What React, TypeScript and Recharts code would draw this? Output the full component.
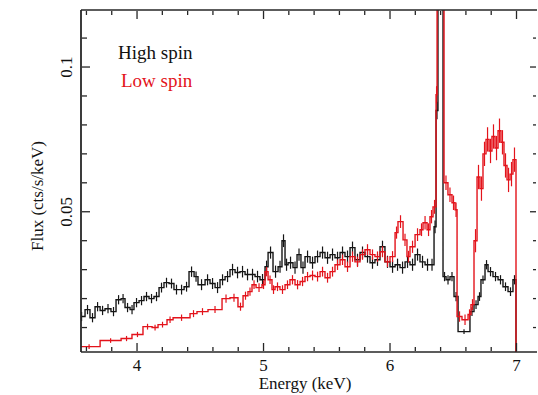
import React from 'react';
import { LineChart, Line, XAxis, YAxis, ErrorBar } from 'recharts';

// High spin spectrum: bin edges (keV), flux (cts/s/keV) and 1-sigma errors
const highEdges = [
  3.534, 3.589, 3.628, 3.668, 3.708, 3.747, 3.794, 3.834, 3.874, 3.905,
  3.945, 3.976, 4.016, 4.055, 4.095, 4.134, 4.174, 4.213, 4.253, 4.292,
  4.332, 4.372, 4.411, 4.451, 4.482, 4.538, 4.577, 4.617, 4.656, 4.696,
  4.735, 4.775, 4.814, 4.854, 4.893, 4.933, 4.972, 5.012, 5.036, 5.075,
  5.115, 5.146, 5.170, 5.194, 5.233, 5.265, 5.296, 5.328, 5.368, 5.407,
  5.447, 5.486, 5.526, 5.565, 5.605, 5.644, 5.684, 5.723, 5.763, 5.802,
  5.842, 5.881, 5.921, 5.960, 6.000, 6.040, 6.079, 6.119, 6.158, 6.198,
  6.237, 6.277, 6.316, 6.348, 6.364, 6.379, 6.419, 6.443, 6.474, 6.506,
  6.538, 6.632, 6.664, 6.696, 6.719, 6.751, 6.775, 6.814, 6.854, 6.893,
  6.933, 6.972, 6.996, 7.020,
];
const highFlux = [
  0.0138, 0.0162, 0.0134, 0.0172, 0.0159, 0.0165, 0.0155, 0.0196, 0.0200, 0.0169,
  0.0162, 0.0186, 0.0193, 0.0207, 0.0200, 0.0207, 0.0238, 0.0255, 0.0252, 0.0231,
  0.0231, 0.0241, 0.0293, 0.0276, 0.0248, 0.0265, 0.0252, 0.0238, 0.0265, 0.0276,
  0.0300, 0.0290, 0.0293, 0.0283, 0.0283, 0.0276, 0.0265, 0.0310, 0.0359, 0.0293,
  0.0310, 0.0400, 0.0317, 0.0324, 0.0307, 0.0352, 0.0307, 0.0345, 0.0324, 0.0345,
  0.0359, 0.0341, 0.0352, 0.0341, 0.0359, 0.0345, 0.0376, 0.0334, 0.0359, 0.0345,
  0.0324, 0.0334, 0.0379, 0.0327, 0.0310, 0.0317, 0.0307, 0.0327, 0.0317, 0.0352,
  0.0327, 0.0317, 0.0317, 0.0448, 0.0850, 0.2000, 0.0276, 0.0265, 0.0276, 0.0207,
  0.0086, 0.0155, 0.0179, 0.0207, 0.0265, 0.0317, 0.0293, 0.0276, 0.0265, 0.0241,
  0.0224, 0.0265, 0,
];
const highErr = [
  0.0016, 0.0016, 0.0016, 0.0016, 0.0016, 0.0016, 0.0016, 0.0016, 0.0016, 0.0016,
  0.0016, 0.0016, 0.0016, 0.0016, 0.0016, 0.0016, 0.0017, 0.0017, 0.0017, 0.0017,
  0.0017, 0.0017, 0.0018, 0.0018, 0.0019, 0.0019, 0.0019, 0.0019, 0.0019, 0.0019,
  0.0020, 0.0020, 0.0020, 0.0020, 0.0020, 0.0020, 0.0020, 0.0021, 0.0021, 0.0021,
  0.0021, 0.0022, 0.0021, 0.0021, 0.0021, 0.0021, 0.0021, 0.0021, 0.0021, 0.0021,
  0.0021, 0.0021, 0.0021, 0.0021, 0.0021, 0.0021, 0.0021, 0.0021, 0.0021, 0.0021,
  0.0021, 0.0021, 0.0021, 0.0021, 0.0021, 0.0021, 0.0021, 0.0021, 0.0021, 0.0021,
  0.0021, 0.0021, 0.0021, 0.0022, 0.0030, 0, 0.0016, 0.0016, 0.0016, 0.0016,
  0.0008, 0.0015, 0.0015, 0.0015, 0.0015, 0.0016, 0.0016, 0.0016, 0.0016, 0.0015,
  0.0015, 0.0016, 0,
];

// Low spin spectrum
const lowEdges = [
  3.534, 3.708, 3.874, 3.960, 4.047, 4.119, 4.166, 4.237, 4.285, 4.419,
  4.474, 4.561, 4.672, 4.735, 4.798, 4.838, 4.877, 4.909, 4.941, 4.988,
  5.012, 5.036, 5.067, 5.091, 5.130, 5.170, 5.209, 5.249, 5.289, 5.328,
  5.368, 5.407, 5.447, 5.486, 5.526, 5.565, 5.605, 5.644, 5.684, 5.723,
  5.763, 5.802, 5.842, 5.881, 5.921, 5.960, 6.000, 6.040, 6.063, 6.103,
  6.134, 6.158, 6.198, 6.237, 6.261, 6.293, 6.316, 6.340, 6.364, 6.372,
  6.427, 6.458, 6.490, 6.514, 6.530, 6.569, 6.617, 6.640, 6.664, 6.688,
  6.711, 6.735, 6.759, 6.783, 6.806, 6.830, 6.854, 6.877, 6.901, 6.925,
  6.949, 6.972, 6.996, 7.020,
];
const lowFlux = [
  0.0034, 0.0055, 0.0062, 0.0076, 0.0103, 0.0100, 0.0110, 0.0127, 0.0134, 0.0148,
  0.0155, 0.0162, 0.0200, 0.0203, 0.0172, 0.0210, 0.0224, 0.0248, 0.0238, 0.0248,
  0.0293, 0.0265, 0.0231, 0.0241, 0.0231, 0.0248, 0.0265, 0.0248, 0.0259, 0.0276,
  0.0280, 0.0276, 0.0293, 0.0272, 0.0293, 0.0317, 0.0334, 0.0310, 0.0345, 0.0327,
  0.0352, 0.0369, 0.0352, 0.0345, 0.0362, 0.0327, 0.0345, 0.0428, 0.0466, 0.0403,
  0.0345, 0.0379, 0.0421, 0.0438, 0.0462, 0.0438, 0.0483, 0.0517, 0.0904, 0.2000,
  0.0600, 0.0559, 0.0531, 0.0507, 0.0138, 0.0127, 0.0145, 0.0179, 0.0400, 0.0620,
  0.0580, 0.0700, 0.0750, 0.0710, 0.0760, 0.0720, 0.0780, 0.0740, 0.0660, 0.0610,
  0.0630, 0.0680, 0,
];
const lowErr = [
  0.0008, 0.0008, 0.0009, 0.0009, 0.0010, 0.0010, 0.0010, 0.0011, 0.0011, 0.0012,
  0.0012, 0.0012, 0.0014, 0.0014, 0.0014, 0.0014, 0.0014, 0.0015, 0.0015, 0.0015,
  0.0016, 0.0015, 0.0015, 0.0015, 0.0015, 0.0015, 0.0016, 0.0016, 0.0016, 0.0016,
  0.0017, 0.0017, 0.0017, 0.0017, 0.0017, 0.0018, 0.0018, 0.0018, 0.0018, 0.0018,
  0.0018, 0.0019, 0.0018, 0.0018, 0.0019, 0.0018, 0.0019, 0.0021, 0.0022, 0.0021,
  0.0020, 0.0021, 0.0022, 0.0022, 0.0023, 0.0022, 0.0023, 0.0024, 0.0030, 0,
  0.0025, 0.0025, 0.0025, 0.0025, 0.0018, 0.0018, 0.0018, 0.0019, 0.0040, 0.0042,
  0.0042, 0.0042, 0.0042, 0.0042, 0.0042, 0.0042, 0.0042, 0.0042, 0.0042, 0.0042,
  0.0042, 0.0042, 0,
];

const xTicks = [3.6, 3.8, 4, 4.2, 4.4, 4.6, 4.8, 5, 5.2, 5.4, 5.6, 5.8, 6, 6.2, 6.4, 6.6, 6.8, 7];
const yTicks = [0.01, 0.02, 0.03, 0.04, 0.05, 0.06, 0.07, 0.08, 0.09, 0.1, 0.11];
const xMajor = [4, 5, 6, 7];
const yMajor = [0.05, 0.1];

const BLACK = '#151515';
const RED = '#e3131b';
const AXIS = '#262626';
const serif = { fontFamily: "'Liberation Serif', 'DejaVu Serif', serif" };

const stepPoints = (edges: number[], flux: number[]) => {
  const pts = flux.map((f, i) => ({ e: edges[i], f }));
  pts.push({ e: edges[edges.length - 1], f: flux[flux.length - 1] });
  return pts;
};
const barPoints = (edges: number[], flux: number[], err: number[]) =>
  flux.map((f, i) => ({ e: (edges[i] + edges[i + 1]) / 2, f, err: err[i] }));

const isMajor = (v: number, list: number[]) => list.some((m) => Math.abs(m - v) < 1e-6);

// custom ticks: drawn inward from the frame, labels only on major ticks
const BottomTick = (props: any) => {
  const { x, y, payload } = props;
  const major = isMajor(payload.value, xMajor);
  const y0 = y - 1;
  return (
    <g>
      <line x1={x} x2={x} y1={y0} y2={y0 - (major ? 8 : 4)} stroke={AXIS} strokeWidth={1.3} />
      {major && (
        <text x={x} y={y0 + 20} textAnchor="middle" fontSize={17} fill="#111" style={serif}>
          {payload.value}
        </text>
      )}
    </g>
  );
};

const TopTick = (props: any) => {
  const { x, y, payload } = props;
  const major = isMajor(payload.value, xMajor);
  const y0 = y + 1;
  return <line x1={x} x2={x} y1={y0} y2={y0 + (major ? 8 : 4)} stroke={AXIS} strokeWidth={1.3} />;
};

const LeftTick = (props: any) => {
  const { x, y, payload } = props;
  const major = isMajor(payload.value, yMajor);
  const x0 = x + 1;
  const lx = x0 - 10;
  return (
    <g>
      <line x1={x0} x2={x0 + (major ? 8 : 5)} y1={y} y2={y} stroke={AXIS} strokeWidth={1.3} />
      {major && (
        <text x={lx} y={y} transform={`rotate(-90 ${lx} ${y})`} textAnchor="middle" fontSize={17} fill="#111" style={serif}>
          {payload.value}
        </text>
      )}
    </g>
  );
};

const RightTick = (props: any) => {
  const { x, y, payload } = props;
  const major = isMajor(payload.value, yMajor);
  const x0 = x - 1;
  return <line x1={x0} x2={x0 - (major ? 6 : 3)} y1={y} y2={y} stroke={AXIS} strokeWidth={1.3} />;
};

export default function App() {
  const highStep = stepPoints(highEdges, highFlux);
  const lowStep = stepPoints(lowEdges, lowFlux);
  const highBars = barPoints(highEdges, highFlux, highErr);
  const lowBars = barPoints(lowEdges, lowFlux, lowErr);
  const xDomain = [3.557, 7.162];
  const yDomain = [0.00155, 0.1197];

  return (
    <div style={{ position: 'absolute', left: 0, top: 0, width: 538, height: 395, overflow: 'hidden', background: '#fff', ...serif }}>
      <LineChart width={538} height={395} margin={{ top: 9, right: 0, bottom: 42, left: 80 }}>
        <XAxis xAxisId="b" dataKey="e" type="number" domain={xDomain} allowDataOverflow ticks={xTicks} interval={0}
          height={1} tickSize={0} tickMargin={0} tick={<BottomTick />} axisLine={{ stroke: AXIS, strokeWidth: 1.6 }} />
        <XAxis xAxisId="t" orientation="top" dataKey="e" type="number" domain={xDomain} allowDataOverflow ticks={xTicks} interval={0}
          height={1} tickSize={0} tickMargin={0} tick={<TopTick />} axisLine={{ stroke: AXIS, strokeWidth: 1.6 }} />
        <YAxis yAxisId="l" type="number" domain={yDomain} allowDataOverflow ticks={yTicks} interval={0}
          width={1} tickSize={0} tickMargin={0} tick={<LeftTick />} axisLine={{ stroke: AXIS, strokeWidth: 1.8 }} />
        <YAxis yAxisId="r" orientation="right" type="number" domain={yDomain} allowDataOverflow ticks={yTicks} interval={0}
          width={1} tickSize={0} tickMargin={0} tick={<RightTick />} axisLine={false} />

        <Line xAxisId="b" yAxisId="l" data={highStep} dataKey="f" type="stepAfter" stroke={BLACK} strokeWidth={1.4}
          dot={false} isAnimationActive={false} />
        <Line xAxisId="b" yAxisId="l" data={highBars} dataKey="f" stroke="none" dot={false} isAnimationActive={false}>
          <ErrorBar dataKey="err" direction="y" width={0} stroke={BLACK} strokeWidth={1.2} />
        </Line>
        <Line xAxisId="b" yAxisId="l" data={lowStep} dataKey="f" type="stepAfter" stroke={RED} strokeWidth={1.4}
          dot={false} isAnimationActive={false} />
        <Line xAxisId="b" yAxisId="l" data={lowBars} dataKey="f" stroke="none" dot={false} isAnimationActive={false}>
          <ErrorBar dataKey="err" direction="y" width={0} stroke={RED} strokeWidth={1.2} />
        </Line>

        <text x={118} y={59} fontSize={19} fill="#111" style={serif}>High spin</text>
        <text x={121} y={87} fontSize={19} fill={RED} style={serif}>Low spin</text>
        <text x={43} y={196} transform="rotate(-90 43 196)" textAnchor="middle" fontSize={17} fill="#111" style={serif}>
          Flux (cts/s/keV)
        </text>
        <text x={305} y={389} textAnchor="middle" fontSize={17} fill="#111" style={serif}>Energy (keV)</text>
      </LineChart>
    </div>
  );
}
